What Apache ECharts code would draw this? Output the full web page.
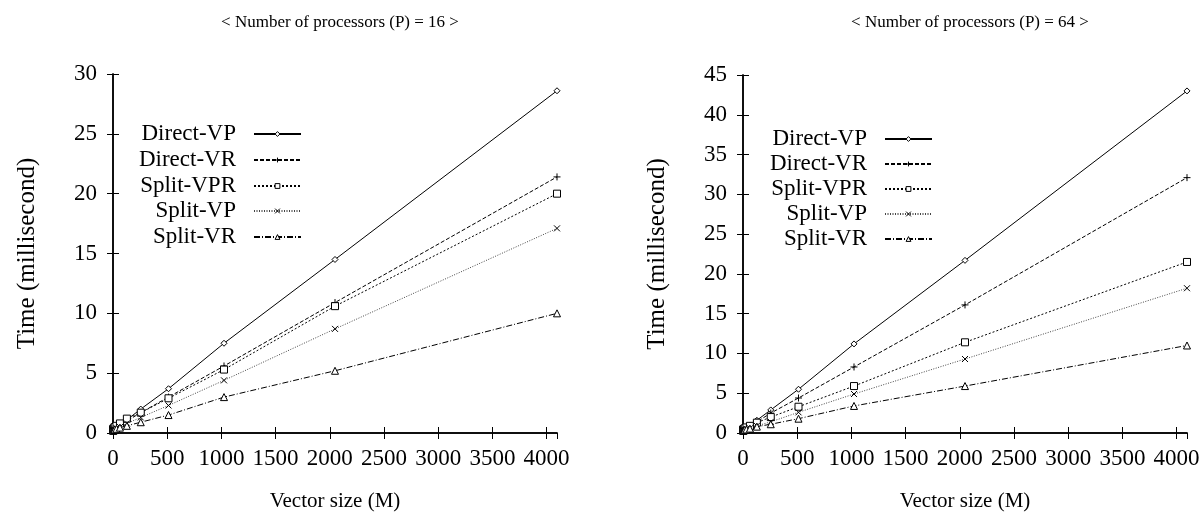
<!DOCTYPE html>
<html>
<head>
<meta charset="utf-8">
<script src="https://cdn.jsdelivr.net/npm/echarts@6/dist/echarts.min.js"></script>
<style>
  html, body { margin: 0; background: #fff; }
  #chart { width: 1203px; height: 520px; }
</style>
</head>
<body>
<div id="chart"></div>
<script>
  // vector sizes (M)
  const sizes = [1, 2, 4, 8, 16, 32, 64, 128, 256, 512, 1024, 2048, 4096]
  const names = ['Direct-VP', 'Direct-VR', 'Split-VPR', 'Split-VP', 'Split-VR']

  // P = 16, time in ms
  const p16DirectVP = [0.3, 0.3, 0.3, 0.35, 0.4, 0.5, 0.7, 1.1, 2.0, 3.7, 7.5, 14.5, 28.6]
  const p16DirectVR = [0.2, 0.2, 0.25, 0.3, 0.35, 0.45, 0.7, 1.0, 1.7, 3.0, 5.6, 10.9, 21.4]
  const p16SplitVPR = [0.3, 0.3, 0.35, 0.4, 0.5, 0.6, 0.8, 1.2, 1.7, 2.9, 5.3, 10.6, 20.0]
  const p16SplitVP = [0.2, 0.2, 0.2, 0.25, 0.3, 0.4, 0.5, 0.8, 1.3, 2.3, 4.4, 8.7, 17.1]
  const p16SplitVR = [0.2, 0.2, 0.2, 0.25, 0.3, 0.35, 0.45, 0.6, 0.9, 1.5, 3.0, 5.2, 10.0]

  // P = 64, time in ms
  const p64DirectVP = [0.4, 0.4, 0.4, 0.45, 0.5, 0.7, 1.0, 1.6, 2.9, 5.5, 11.2, 21.7, 43.0]
  const p64DirectVR = [0.3, 0.3, 0.35, 0.4, 0.45, 0.6, 0.9, 1.4, 2.5, 4.4, 8.3, 16.1, 32.1]
  const p64SplitVPR = [0.4, 0.4, 0.45, 0.5, 0.6, 0.7, 0.9, 1.3, 2.0, 3.3, 5.9, 11.4, 21.5]
  const p64SplitVP = [0.3, 0.3, 0.3, 0.35, 0.4, 0.5, 0.6, 0.9, 1.4, 2.6, 4.9, 9.3, 18.2]
  const p64SplitVR = [0.3, 0.3, 0.3, 0.35, 0.4, 0.45, 0.55, 0.8, 1.1, 1.8, 3.4, 5.9, 11.0]

  const p16 = [p16DirectVP, p16DirectVR, p16SplitVPR, p16SplitVP, p16SplitVR]
  const p64 = [p64DirectVP, p64DirectVR, p64SplitVPR, p64SplitVP, p64SplitVR]

  const font = 'Liberation Serif'
  const plusPath = 'path://M0,5L10,5M5,0L5,10'
  const crossPath = 'path://M0,0L10,10M10,0L0,10'

  // gnuplot-like point/line styles for each method
  const styles = [
    { symbol: 'diamond', size: 6, dash: 'solid', color: '#000' },
    { symbol: plusPath, size: 7, dash: [4, 2], color: '#000' },
    { symbol: 'rect', size: 7, dash: [2, 2], color: '#000' },
    { symbol: crossPath, size: 6, dash: [1, 1.5], color: '#444' },
    { symbol: 'triangle', size: 7, dash: [6, 2, 1, 2], color: '#000' }
  ]

  const chart = echarts.init(document.getElementById('chart'))

  const makeSeries = (sets, gridIdx) => sets.map((vals, i) => ({
    name: names[i],
    type: 'line',
    xAxisIndex: gridIdx * 2,
    yAxisIndex: gridIdx * 2,
    data: sizes.map((s, k) => [s, vals[k]]),
    symbol: styles[i].symbol,
    symbolSize: styles[i].size,
    showAllSymbol: true,
    lineStyle: { color: styles[i].color, width: 1, type: styles[i].dash },
    itemStyle: { color: '#fff', borderColor: '#000', borderWidth: 1 },
    emphasis: { disabled: true },
    animation: false
  }))

  const plain = (v) => String(v)

  const xBottom = (grid) => ({
    type: 'value', gridIndex: grid, min: 0, max: 4096, interval: 500,
    name: 'Vector size (M)', nameLocation: 'middle', nameGap: 58,
    nameTextStyle: { fontFamily: font, fontSize: 21, color: '#000' },
    axisLine: { lineStyle: { color: '#000', width: 1.5 } },
    axisTick: { inside: true, length: 6, lineStyle: { color: '#000' } },
    axisLabel: { fontFamily: font, fontSize: 23, color: '#000', margin: 14, showMaxLabel: false, formatter: plain },
    splitLine: { show: false }
  })
  const xTop = (grid) => ({
    type: 'value', gridIndex: grid, position: 'top', min: 0, max: 4096, interval: 500,
    axisLine: { lineStyle: { color: '#000', width: 1.5 } },
    axisTick: { inside: true, length: 6, lineStyle: { color: '#000' } },
    axisLabel: { show: false },
    splitLine: { show: false }
  })
  const yLeft = (grid, max) => ({
    type: 'value', gridIndex: grid, min: 0, max: max, interval: 5,
    name: 'Time (millisecond)', nameLocation: 'middle', nameGap: 73, nameRotate: 90,
    nameTextStyle: { fontFamily: font, fontSize: 25, color: '#000' },
    axisLine: { show: true, lineStyle: { color: '#000', width: 1.5 } },
    axisTick: { show: true, inside: true, length: 6, lineStyle: { color: '#000' } },
    axisLabel: { fontFamily: font, fontSize: 23, color: '#000', margin: 16, formatter: plain },
    splitLine: { show: false }
  })
  const yRight = (grid, max) => ({
    type: 'value', gridIndex: grid, position: 'right', min: 0, max: max, interval: 5,
    axisLine: { show: true, lineStyle: { color: '#000', width: 1.5 } },
    axisTick: { show: true, inside: true, length: 6, lineStyle: { color: '#000' } },
    axisLabel: { show: false },
    splitLine: { show: false }
  })

  // legend rows: text right-aligned, line sample to its right
  const legendRows = (rightPx, rowTops) => names.map((n, i) => ({
    data: [n],
    selectedMode: false,
    align: 'right',
    right: rightPx,
    top: rowTops[i] - 12,
    itemWidth: 47,
    itemHeight: 6,
    padding: 0,
    itemStyle: { color: '#fff', borderColor: '#000', borderWidth: 1 },
    textStyle: { fontFamily: font, fontSize: 23, lineHeight: 24, color: '#000', padding: [0, 13, 0, 0] }
  }))

  chart.setOption({
    animation: false,
    title: [
      { text: '< Number of processors (P) = 16 >', left: 335, top: 9, textAlign: 'center',
        textStyle: { fontFamily: font, fontSize: 17, fontWeight: 'normal', color: '#000' } },
      { text: '< Number of processors (P) = 64 >', left: 965, top: 9, textAlign: 'center',
        textStyle: { fontFamily: font, fontSize: 17, fontWeight: 'normal', color: '#000' } }
    ],
    legend: legendRows(901, [134, 160, 186, 211, 237]).concat(legendRows(270, [139, 164, 189, 214, 239])),
    grid: [
      { left: 113, top: 74, width: 444, height: 359 },
      { left: 743, top: 75, width: 444, height: 358 }
    ],
    xAxis: [xBottom(0), xTop(0), xBottom(1), xTop(1)],
    yAxis: [yLeft(0, 30), yRight(0, 30), yLeft(1, 45), yRight(1, 45)],
    series: makeSeries(p16, 0).concat(makeSeries(p64, 1))
  })
</script>
</body>
</html>
